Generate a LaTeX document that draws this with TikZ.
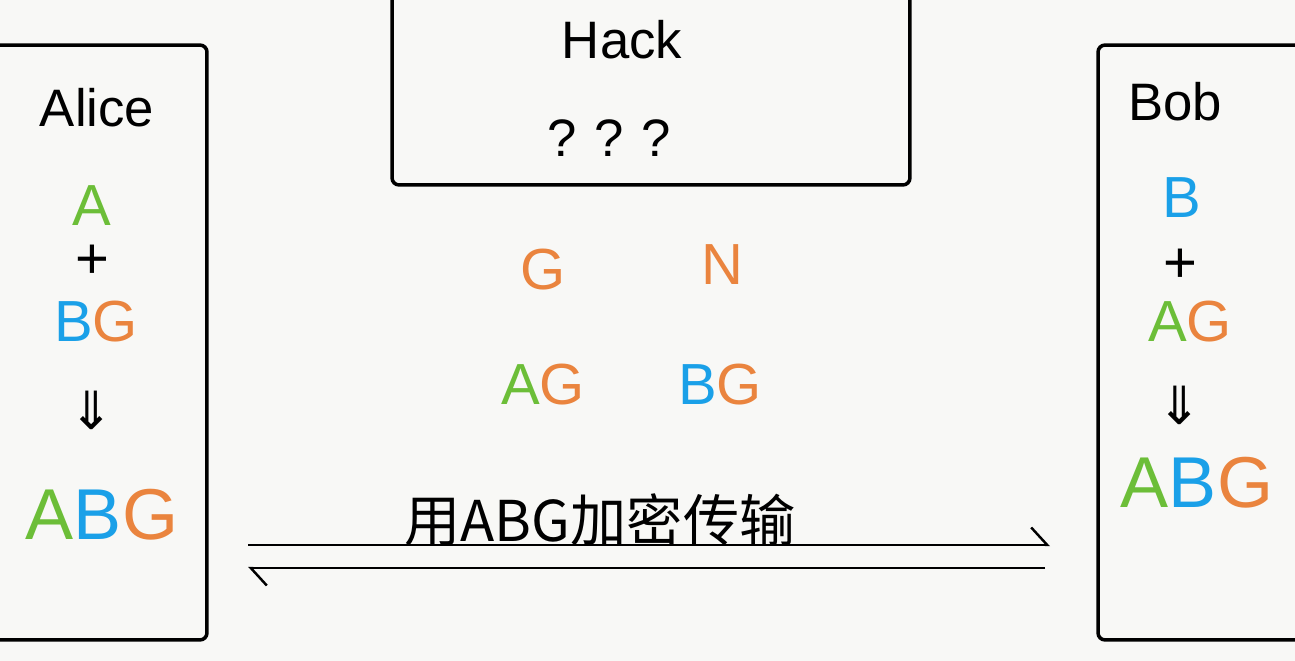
\documentclass[tikz,border=0pt]{standalone}
\usepackage{fontspec}
\setmainfont{Liberation Sans}
\newfontfamily\cjkfont{Noto Sans CJK SC}
\newfontfamily\symfont{DejaVu Sans}
\usetikzlibrary{positioning, arrows.meta}

\definecolor{paper}{RGB}{248,248,246}
\definecolor{keyGreen}{RGB}{108,190,56}
\definecolor{keyBlue}{RGB}{26,160,232}
\definecolor{keyOrange}{RGB}{234,132,62}

\begin{document}
\begin{tikzpicture}[
    x=0.02cm, y=-0.02cm,
    party/.style={
        draw,
        rectangle,
        line width=2pt,
        rounded corners=4pt
    },
    partyName/.style={
        font=\fontsize{30}{32}\selectfont,
        inner sep=0pt
    },
    key/.style={
        font=\fontsize{33}{35}\selectfont,
        inner sep=0pt
    },
    bigkey/.style={
        font=\fontsize{41}{43}\selectfont,
        inner sep=0pt
    },
    sendLine/.style={
        draw,
        line width=1.4pt,
        -{Straight Barb[left, length=3.2mm, width=7mm, line width=1.4pt]}
    }
]

% --- Page ---
\fill[paper] (0,0) rectangle (1295,661);
\useasboundingbox (0,0) rectangle (1295,661);

% --- Boxes (partly outside the page) ---
\node[party, minimum width=4.74cm, minimum height=11.9cm] (alice) at (88.5,342.5) {};
\node[party, minimum width=10.36cm, minimum height=4.3cm] (hack) at (651,77.5) {};
\node[party, minimum width=4.64cm, minimum height=11.9cm] (bob) at (1214,342.5) {};

% --- Alice ---
\node[partyName] (aliceName) at (97,108) {Alice};
\node[key, text=keyGreen] (aliceA) at (92,206) {A};
\node[key] (alicePlus) at (92,262) {+};
\node[key] (aliceBG) at (96,322) {\textcolor{keyBlue}{B}\textcolor{keyOrange}{G}};
\node[key, font=\symfont\fontsize{30}{32}\selectfont] (aliceDown) at (92,410) {⇓};
\node[bigkey] (aliceKey) at (102,515) {\textcolor{keyGreen}{A}\textcolor{keyBlue}{B}\textcolor{keyOrange}{G}};

% --- Hack ---
\node[partyName] (hackName) at (622,40) {Hack};
\node[partyName] (hackGuess) at (609,138) {?\,\,?\,\,?};

% --- Public values ---
\node[key, text=keyOrange] (pubG) at (543,270) {G};
\node[key, text=keyOrange] (pubN) at (722,265) {N};
\node[key] (pubAG) at (543,385) {\textcolor{keyGreen}{A}\textcolor{keyOrange}{G}};
\node[key] (pubBG) at (720,385) {\textcolor{keyBlue}{B}\textcolor{keyOrange}{G}};

% --- Bob ---
\node[partyName] (bobName) at (1175,102) {Bob};
\node[key, text=keyBlue] (bobB) at (1182,198) {B};
\node[key] (bobPlus) at (1180,266) {+};
\node[key] (bobAG) at (1190,322) {\textcolor{keyGreen}{A}\textcolor{keyOrange}{G}};
\node[key, font=\symfont\fontsize{30}{32}\selectfont] (bobDown) at (1180,405) {⇓};
\node[bigkey] (bobKey) at (1197,483) {\textcolor{keyGreen}{A}\textcolor{keyBlue}{B}\textcolor{keyOrange}{G}};

% --- Encrypted channel ---
\coordinate (txStart) at (248,545);
\coordinate (txEnd) at (1050,545);
\coordinate (rxStart) at (1045,568);
\coordinate (rxEnd) at (248,568);

\draw[sendLine] (txStart) -- (txEnd);
\draw[sendLine] (rxStart) -- (rxEnd);
\node[font=\cjkfont\fontsize{32}{34}\selectfont, inner sep=0pt] (channel) at (600,520) {用ABG加密传输};

\end{tikzpicture}
\end{document}
